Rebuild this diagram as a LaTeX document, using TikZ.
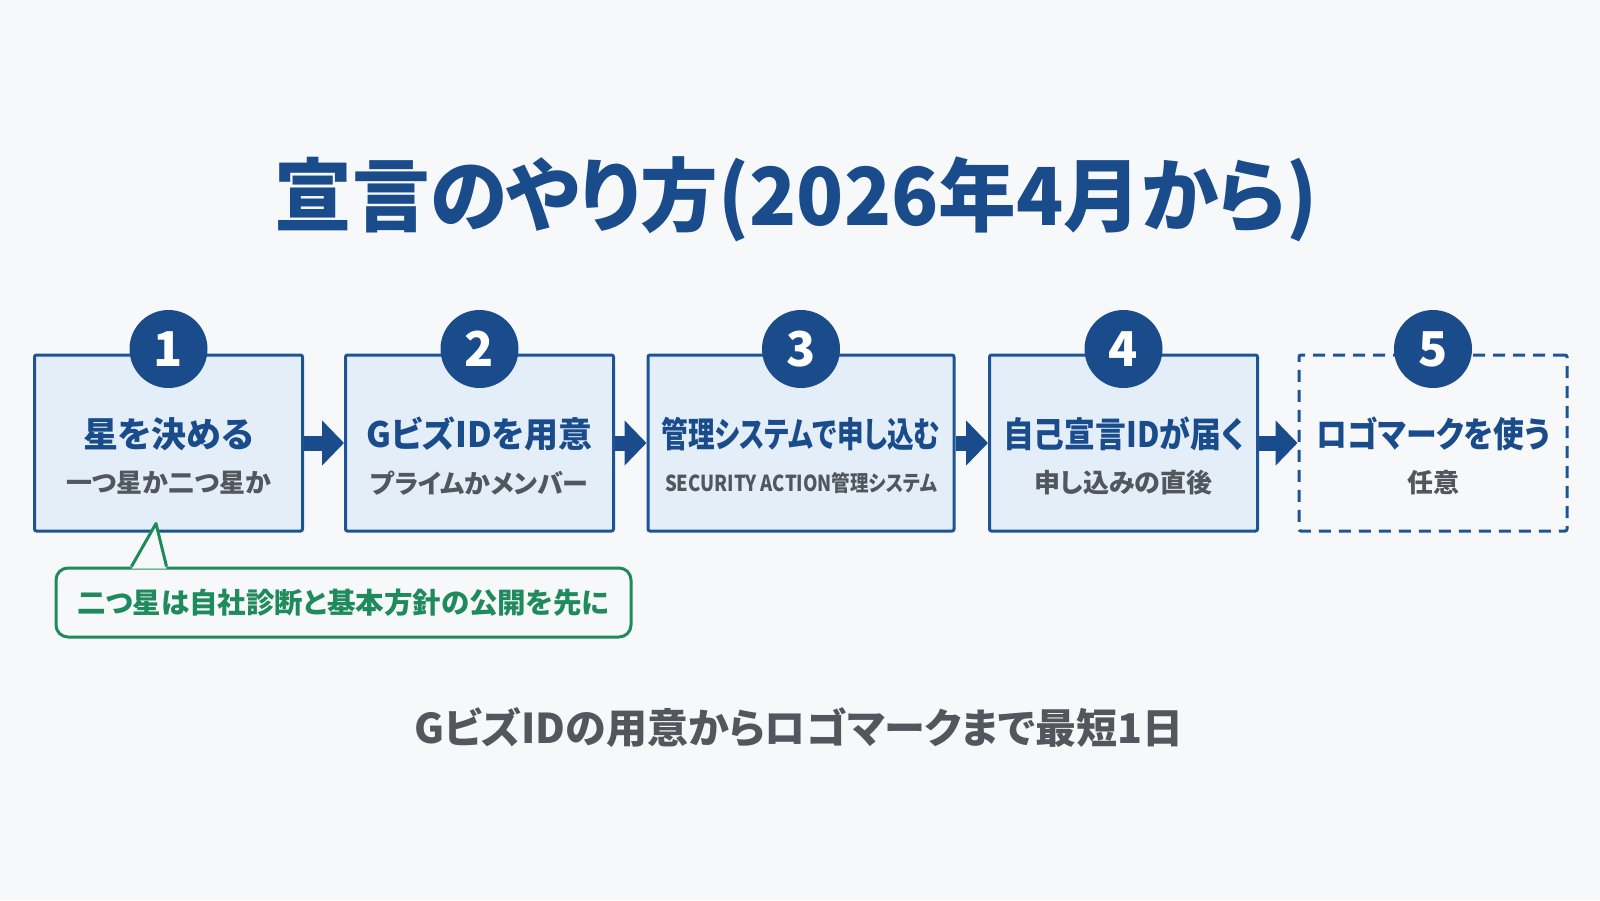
\documentclass[tikz,border=0pt]{standalone}
\usepackage{fontspec}
\setmainfont{Noto Sans CJK JP}[RawFeature=+palt]
\usetikzlibrary{arrows.meta,positioning}

\definecolor{paper}{HTML}{F7F8FA}
\definecolor{navy}{HTML}{1A4C8C}
\definecolor{boxline}{HTML}{1D5496}
\definecolor{boxfill}{HTML}{E4EEF9}
\definecolor{greytext}{HTML}{52575E}
\definecolor{leaf}{HTML}{1F8A5B}

% horizontally condensed text
\newcommand{\narrowtext}[2]{\scalebox{#1}[1]{#2}}

\tikzset{
  stepbox/.style={draw=boxline, line width=3pt, fill=boxfill, rounded corners=2pt,
    minimum width=268pt, minimum height=176pt, inner sep=0pt},
  optbox/.style={stepbox, fill=paper, dash pattern=on 12pt off 8pt},
  numdot/.style={circle, fill=navy, minimum size=78pt, inner sep=0pt, text=white,
    font=\fontsize{48}{50}\selectfont\bfseries},
  steptitle/.style={text=navy, inner sep=0pt, font=\fontsize{35}{37}\selectfont\bfseries},
  stepsub/.style={text=greytext, inner sep=0pt, font=\fontsize{26}{28}\selectfont\bfseries},
  flow/.style={draw=navy, line width=15pt, -{Triangle[length=22pt,width=44pt]}},
  note/.style={draw=leaf, line width=3pt, rounded corners=12pt, fill=paper,
    minimum width=575pt, minimum height=69pt, text=leaf,
    font=\fontsize{28.5}{30}\selectfont\bfseries},
  headline/.style={text=navy, inner sep=0pt, font=\fontsize{80}{82}\selectfont\bfseries},
  summary/.style={text=greytext, inner sep=0pt, font=\fontsize{41}{43}\selectfont\bfseries}
}

\begin{document}
\begin{tikzpicture}[x=1pt,y=-1pt]
  \fill[paper] (0,0) rectangle (1600,900);

  \node[headline] (title) at (796,199) {\narrowtext{0.97}{宣言のやり方(2026年4月から)}};

  % steps
  \node[stepbox] (s1) at (168.5,443) {};
  \node[stepbox] (s2) at (479.5,443) {};
  \node[stepbox, minimum width=306pt] (s3) at (801,443) {};
  \node[stepbox] (s4) at (1123.5,443) {};
  \node[optbox]  (s5) at (1433,443) {};

  \node[numdot] (n1) at (168.5,349) {1};
  \node[numdot] (n2) at (479.5,349) {2};
  \node[numdot] (n3) at (801,349)   {3};
  \node[numdot] (n4) at (1123.5,349) {4};
  \node[numdot] (n5) at (1433,349)  {5};

  \node[steptitle] (t1) at (168.5,434)  {星を決める};
  \node[steptitle] (t2) at (479.5,434)  {\narrowtext{0.97}{GビズIDを用意}};
  \node[steptitle] (t3) at (801,434)    {\narrowtext{0.76}{管理システムで申し込む}};
  \node[steptitle] (t4) at (1123.5,434) {\narrowtext{0.88}{自己宣言IDが届く}};
  \node[steptitle] (t5) at (1433,434)   {\narrowtext{0.88}{ロゴマークを使う}};

  \node[stepsub] (u1) at (168.5,483)  {一つ星か二つ星か};
  \node[stepsub] (u2) at (479.5,483)  {プライムかメンバー};
  \node[stepsub, font=\fontsize{22}{24}\selectfont\bfseries] (u3) at (801,483) {\narrowtext{0.84}{SECURITY ACTION管理システム}};
  \node[stepsub] (u4) at (1123.5,483) {申し込みの直後};
  \node[stepsub] (u5) at (1433,483)   {任意};

  \draw[flow] (s1.east) -- (s2.west);
  \draw[flow] (s2.east) -- (s3.west);
  \draw[flow] (s3.east) -- (s4.west);
  \draw[flow] (s4.east) -- (s5.west);

  % note for step 1
  \node[note] (note) at (343.5,602.5) {二つ星は自社診断と基本方針の公開を先に};
  \coordinate (tip) at ([xshift=-12.5pt,yshift=9pt]s1.south);
  \coordinate (pl) at ([xshift=77pt]note.north west);
  \coordinate (pr) at ([xshift=112pt]note.north west);
  \fill[paper] ([yshift=-2pt]pl) -- (tip) -- ([yshift=-2pt]pr) -- cycle;
  \draw[leaf, line width=3pt, line join=round] (pl) -- (tip) -- (pr);

  \node[summary] (sum) at (799,728) {GビズIDの用意からロゴマークまで最短1日};
\end{tikzpicture}
\end{document}
